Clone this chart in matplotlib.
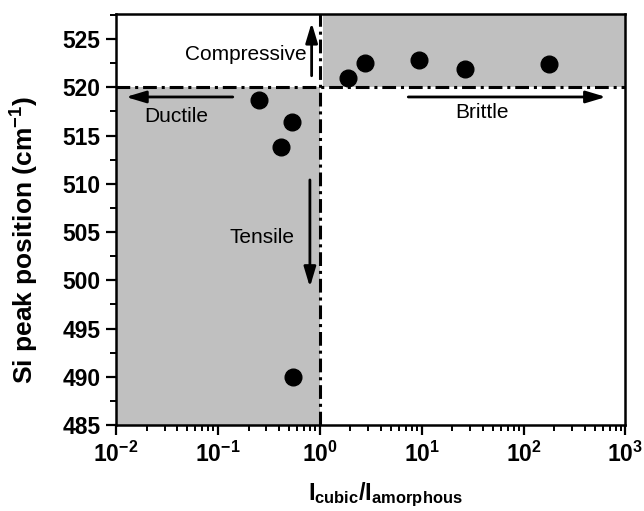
import matplotlib
matplotlib.use("Agg")
import matplotlib.pyplot as plt
from matplotlib.ticker import FixedLocator, LogLocator, NullFormatter

plt.rcParams['font.family'] = ['Liberation Sans', 'DejaVu Sans']
plt.rcParams['mathtext.fontset'] = 'custom'
plt.rcParams['mathtext.rm'] = 'Liberation Sans:bold'
plt.rcParams['mathtext.bf'] = 'Liberation Sans:bold'
plt.rcParams['mathtext.it'] = 'Liberation Sans:bold'

# 数据：强度比与 Si 峰位
ratio = [0.255, 0.416, 0.533, 0.542, 1.905, 2.78, 9.48, 26.6, 178.7]
peak = [518.7, 513.8, 516.4, 490.0, 521.0, 522.5, 522.8, 521.9, 522.4]

x_ticks = [1e-2, 1e-1, 1e0, 1e1, 1e2, 1e3]
x_labels = ['$10^{-2}$', '$10^{-1}$', '$10^{0}$', '$10^{1}$', '$10^{2}$', '$10^{3}$']
y_ticks = [485, 490, 495, 500, 505, 510, 515, 520, 525]

x_min, x_max = 1e-2, 1e3
y_min, y_max = 485, 527.6
ref_x, ref_y = 1.0, 520

fig = plt.figure(figsize=(6.44, 5.11), dpi=100)
ax = fig.add_axes([0.1801, 0.1683, 0.7911, 0.8043])

# 灰色区域
gray = '#c0c0c0'
ax.fill_between([x_min, ref_x], y_min, ref_y, color=gray, lw=0, zorder=0)
ax.fill_between([ref_x * 1.074, x_max], ref_y, y_max, color=gray, lw=0, zorder=0)

# 点划线
ax.axhline(ref_y, color='black', lw=2.2, dashes=(4.5, 1.6, 1, 1.6), zorder=2)
ax.axvline(ref_x, color='black', lw=2.2, dashes=(4.5, 1.6, 1, 1.6), zorder=2)

ax.plot(ratio, peak, 'o', color='black', ms=12, zorder=3)

# 箭头和文字
arr = dict(arrowstyle='-|>,head_length=0.6,head_width=0.18', color='black',
           lw=2, mutation_scale=20, shrinkA=0, shrinkB=0)
ax.annotate('', xy=(0.832, 526.7), xytext=(0.832, 521.2), arrowprops=arr)
ax.text(0.743, 523.45, 'Compressive', ha='right', va='center', fontsize=15)
ax.annotate('', xy=(0.0125, 519.0), xytext=(0.14, 519.0), arrowprops=arr)
ax.text(0.0388, 517.0, 'Ductile', ha='center', va='center', fontsize=15)
ax.annotate('', xy=(644, 519.0), xytext=(7.39, 519.0), arrowprops=arr)
ax.text(39.5, 517.4, 'Brittle', ha='center', va='center', fontsize=15)
ax.annotate('', xy=(0.80, 499.3), xytext=(0.80, 510.4), arrowprops=arr)
ax.text(0.269, 504.4, 'Tensile', ha='center', va='center', fontsize=15)

ax.set_xscale('log')
ax.set_xlim(x_min, x_max)
ax.set_ylim(y_min, y_max)
ax.set_xticks(x_ticks)
ax.set_xticklabels(x_labels)
ax.xaxis.set_minor_locator(LogLocator(base=10, subs=range(2, 10)))
ax.xaxis.set_minor_formatter(NullFormatter())
ax.set_yticks(y_ticks)
ax.yaxis.set_minor_locator(FixedLocator([v + 2.5 for v in y_ticks]))

for s in ax.spines.values():
    s.set_linewidth(1.8)
ax.tick_params(which='major', direction='out', length=7, width=1.6, labelsize=16.5)
ax.tick_params(which='minor', direction='out', length=4, width=1.4)
ax.tick_params(axis='y', pad=4)
ax.tick_params(axis='x', pad=5)
for lab in ax.get_yticklabels():
    lab.set_fontweight('bold')

ax.set_ylabel('Si peak position (cm$^{-1}$)', fontsize=19, fontweight='bold')
ax.yaxis.set_label_coords(-0.148, 0.45)
ax.set_xlabel('$I_{cubic}/I_{amorphous}$', fontsize=17)
ax.xaxis.set_label_coords(0.529, -0.136)

fig.savefig('out.png', dpi=100)
